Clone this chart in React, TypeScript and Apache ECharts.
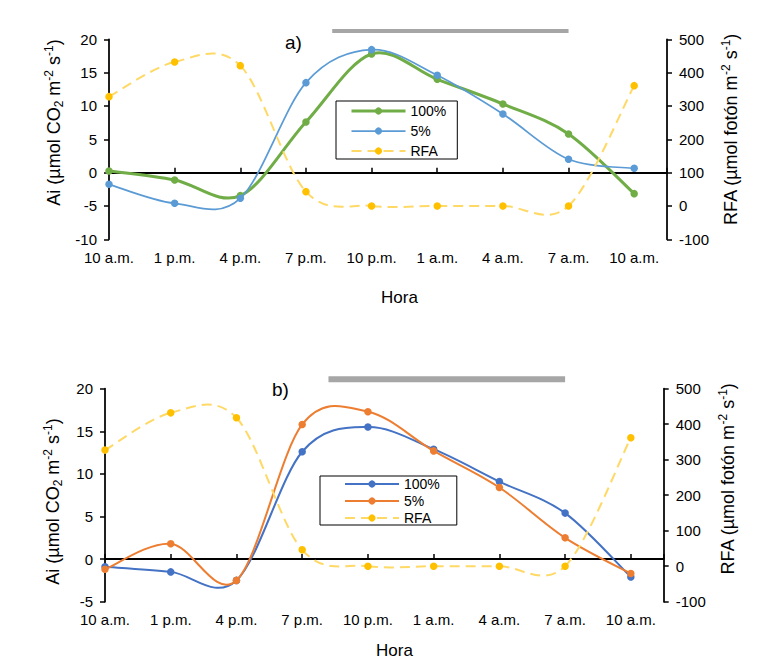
import React, { useEffect, useRef } from "react";
import * as echarts from "echarts";

// ---- data ----
const hours = ["10 a.m.", "1 p.m.", "4 p.m.", "7 p.m.", "10 p.m.", "1 a.m.", "4 a.m.", "7 a.m.", "10 a.m."];
const darkPeriod = [3.4, 7]; // grey bar, in hour-index units

const aAi100 = [0.25, -1.1, -3.45, 7.6, 17.8, 14.0, 10.3, 5.8, -3.15];
const aAi5 = [-1.75, -4.6, -3.85, 13.5, 18.45, 14.6, 8.8, 2.0, 0.65];
const aRFA = [328, 432, 421, 43, 0, 0, 0, 0, 361];

const bAi100 = [-0.9, -1.5, -2.5, 12.6, 15.5, 12.9, 9.1, 5.4, -2.1];
const bAi5 = [-1.2, 1.8, -2.5, 15.8, 17.3, 12.7, 8.4, 2.5, -1.7];
const bRFA = [327, 432, 418, 46, 0, 0, 0, 0, 362];

const seriesNames = ["100%", "5%", "RFA"];

const FONT = "'Liberation Sans', Arial, Helvetica, sans-serif";

type Panel = {
  height: number;
  grid: any;
  yLeft: number[];
  yRight: number[];
  ai100: number[];
  ai5: number[];
  rfa: number[];
  c100: string;
  w100: number;
  c5: string;
  w5: number;
  label: string;
  labelPos: number[];
  bar: number[];
  legend: { left: number; top: number; gap: number; padding: number[] };
  leftTitle: number[];
  rightTitle: number[];
  hora: number[];
  xLabelMargin: number;
};

const panelA: Panel = {
  height: 333,
  grid: { left: 109, right: 100, top: 39.3, bottom: 93.7 },
  yLeft: [-10, 20, 5],
  yRight: [-100, 500, 100],
  ai100: aAi100,
  ai5: aAi5,
  rfa: aRFA,
  c100: "#70AD47",
  w100: 3,
  c5: "#5B9BD5",
  w5: 1.75,
  label: "a)",
  labelPos: [293.5, 42.7],
  bar: [29, 4],
  legend: { left: 336, top: 101, gap: 6, padding: [3, 11, 1, 14] },
  leftTitle: [53.5, 122.5],
  rightTitle: [731, 129.5],
  hora: [399.5, 297],
  xLabelMargin: 11,
};

const panelB: Panel = {
  height: 334,
  grid: { left: 105, right: 103.3, top: 55.7, bottom: 65.3 },
  yLeft: [-5, 20, 5],
  yRight: [-100, 500, 100],
  ai100: bAi100,
  ai5: bAi5,
  rfa: bRFA,
  c100: "#4472C4",
  w100: 2,
  c5: "#ED7D31",
  w5: 2,
  label: "b)",
  labelPos: [280.5, 56],
  bar: [43.3, 6],
  legend: { left: 320, top: 143, gap: 3, padding: [1, 17, 0, 24] },
  leftTitle: [52.6, 168.5],
  rightTitle: [727.6, 146],
  hora: [394.5, 317.7],
  xLabelMargin: 10,
};

const RFA_LINE = "#FFD966";
const RFA_MARK = "#FFC000";
const RFA_DASH = [10, 6];

function pairs(arr: number[]) {
  return arr.map((v, i) => [i, v]);
}

// Smooth (Catmull-Rom like) curve through the data points, drawn through the axes.
function curveRenderer(color: string, width: number, dash?: number[]) {
  return (params: any, api: any) => {
    const i = params.dataIndexInside;
    const n = params.dataInsideLength;
    if (i >= n - 1) return null;
    const pt = (k: number) => api.coord([api.value(0, k), api.value(1, k)]);
    const p0 = pt(Math.max(i - 1, 0));
    const p1 = pt(i);
    const p2 = pt(i + 1);
    const p3 = pt(Math.min(i + 2, n - 1));
    return {
      type: "bezierCurve",
      silent: true,
      shape: {
        x1: p1[0],
        y1: p1[1],
        x2: p2[0],
        y2: p2[1],
        cpx1: p1[0] + (p2[0] - p0[0]) / 6,
        cpy1: p1[1] + (p2[1] - p0[1]) / 6,
        cpx2: p2[0] - (p3[0] - p1[0]) / 6,
        cpy2: p2[1] - (p3[1] - p1[1]) / 6,
      },
      style: { stroke: color, lineWidth: width, fill: null, lineDash: dash || null },
    };
  };
}

function titleText(x: number, y: number, text: string, rotation: number, size: number) {
  return {
    type: "text",
    x,
    y,
    rotation,
    silent: true,
    style: {
      text,
      fill: "#000",
      fontSize: size,
      fontFamily: FONT,
      lineHeight: 22,
      align: "center",
      verticalAlign: "middle",
      textAlign: "center",
      textVerticalAlign: "middle",
      rich: {
        sub: { fontSize: 12, fontFamily: FONT, fill: "#000", verticalAlign: "bottom", lineHeight: 13 },
        sup: { fontSize: 12, fontFamily: FONT, fill: "#000", verticalAlign: "top", lineHeight: 13 },
      },
    },
  };
}

function buildOption(c: Panel) {
  const axisColor = "#000";
  const xBase = { type: "value", min: 0, max: 8.5, interval: 1, splitLine: { show: false } };
  const yStyle = (pos: string, r: number[]) => ({
    type: "value",
    position: pos,
    min: r[0],
    max: r[1],
    interval: r[2],
    splitLine: { show: false },
    axisLine: { show: true, onZero: false, lineStyle: { color: axisColor, width: 1.75 } },
    axisTick: { show: true, length: 5, lineStyle: { color: axisColor, width: 1.5 } },
    axisLabel: { fontSize: 15, color: "#000", margin: 12, fontFamily: FONT },
  });

  const lines = [
    { name: seriesNames[0], data: c.ai100, color: c.c100, mark: c.c100, width: c.w100, y: 0, dash: undefined as any },
    { name: seriesNames[1], data: c.ai5, color: c.c5, mark: c.c5, width: c.w5, y: 0, dash: undefined as any },
    { name: seriesNames[2], data: c.rfa, color: RFA_LINE, mark: RFA_MARK, width: 2, y: 1, dash: RFA_DASH },
  ];

  const series: any[] = [
    {
      type: "custom",
      name: "dark",
      xAxisIndex: 0,
      yAxisIndex: 0,
      silent: true,
      encode: { x: [0, 1] },
      data: [darkPeriod],
      renderItem: (params: any, api: any) => {
        const x1 = api.coord([api.value(0), 0])[0];
        const x2 = api.coord([api.value(1), 0])[0];
        return {
          type: "rect",
          shape: { x: x1, y: c.bar[0], width: x2 - x1, height: c.bar[1] },
          style: { fill: "#A6A6A6" },
        };
      },
      z: 1,
    },
  ];

  lines.forEach((s, k) => {
    series.push({
      type: "custom",
      name: s.name + " curve",
      xAxisIndex: 0,
      yAxisIndex: s.y,
      encode: { x: 0, y: 1 },
      data: pairs(s.data),
      renderItem: curveRenderer(s.color, s.width, s.dash),
      silent: true,
      z: 3 + k * 2,
    });
    series.push({
      type: "line",
      name: s.name,
      xAxisIndex: 0,
      yAxisIndex: s.y,
      data: pairs(s.data),
      symbol: "circle",
      symbolSize: 7.5,
      showSymbol: true,
      lineStyle: { color: s.color, width: 0 },
      itemStyle: { color: s.mark },
      silent: true,
      z: 4 + k * 2,
    });
  });

  return {
    animation: false,
    textStyle: { fontFamily: FONT },
    grid: c.grid,
    xAxis: [
      {
        ...xBase,
        axisLine: { show: true, onZero: true, onZeroAxisIndex: 0, lineStyle: { color: axisColor, width: 2 } },
        axisTick: { show: true, inside: true, length: 5, lineStyle: { color: axisColor, width: 1.5 } },
        axisLabel: { show: false },
      },
      {
        ...xBase,
        position: "bottom",
        axisLine: { show: false, onZero: false },
        axisTick: { show: false },
        axisLabel: {
          fontSize: 15,
          color: "#000",
          fontFamily: FONT,
          margin: c.xLabelMargin,
          formatter: (v: number) => (Number.isInteger(v) && hours[v] !== undefined ? hours[v] : ""),
        },
      },
    ],
    yAxis: [yStyle("left", c.yLeft), yStyle("right", c.yRight)],
    legend: {
      orient: "vertical",
      left: c.legend.left,
      top: c.legend.top,
      itemWidth: 54,
      itemHeight: 9,
      itemGap: c.legend.gap,
      padding: c.legend.padding,
      borderColor: "#000",
      borderWidth: 1,
      selectedMode: false,
      textStyle: { fontSize: 14, color: "#000", fontFamily: FONT },
      data: lines.map((s) => ({
        name: s.name,
        itemStyle: { color: s.mark, opacity: 1 },
        lineStyle: { color: s.color, width: s.width, type: s.dash ? s.dash : "solid", opacity: 1 },
      })),
    },
    graphic: [
      titleText(c.leftTitle[0], c.leftTitle[1], "Ai (µmol CO{sub|2} m{sup|-2} s{sup|-1})", Math.PI / 2, 18),
      titleText(c.rightTitle[0], c.rightTitle[1], "RFA (µmol fotón m{sup|-2} s{sup|-1})", Math.PI / 2, 18),
      titleText(c.hora[0], c.hora[1], "Hora", 0, 17),
      titleText(c.labelPos[0], c.labelPos[1], c.label, 0, 19),
    ],
    series,
  };
}

function ChartPanel({ panel, top }: { panel: Panel; top: number }) {
  const ref = useRef<HTMLDivElement>(null);
  useEffect(() => {
    if (!ref.current) return;
    const chart = echarts.init(ref.current, null, { renderer: "svg" });
    chart.setOption(buildOption(panel) as any);
    return () => chart.dispose();
  }, [panel]);
  return (
    <div
      ref={ref}
      style={{ position: "absolute", left: 0, top, width: 767, height: panel.height }}
    />
  );
}

export default function App() {
  return (
    <div style={{ position: "absolute", left: 0, top: 0, width: 767, height: 667, background: "#fff", overflow: "hidden" }}>
      <ChartPanel panel={panelA} top={0} />
      <ChartPanel panel={panelB} top={333} />
    </div>
  );
}
